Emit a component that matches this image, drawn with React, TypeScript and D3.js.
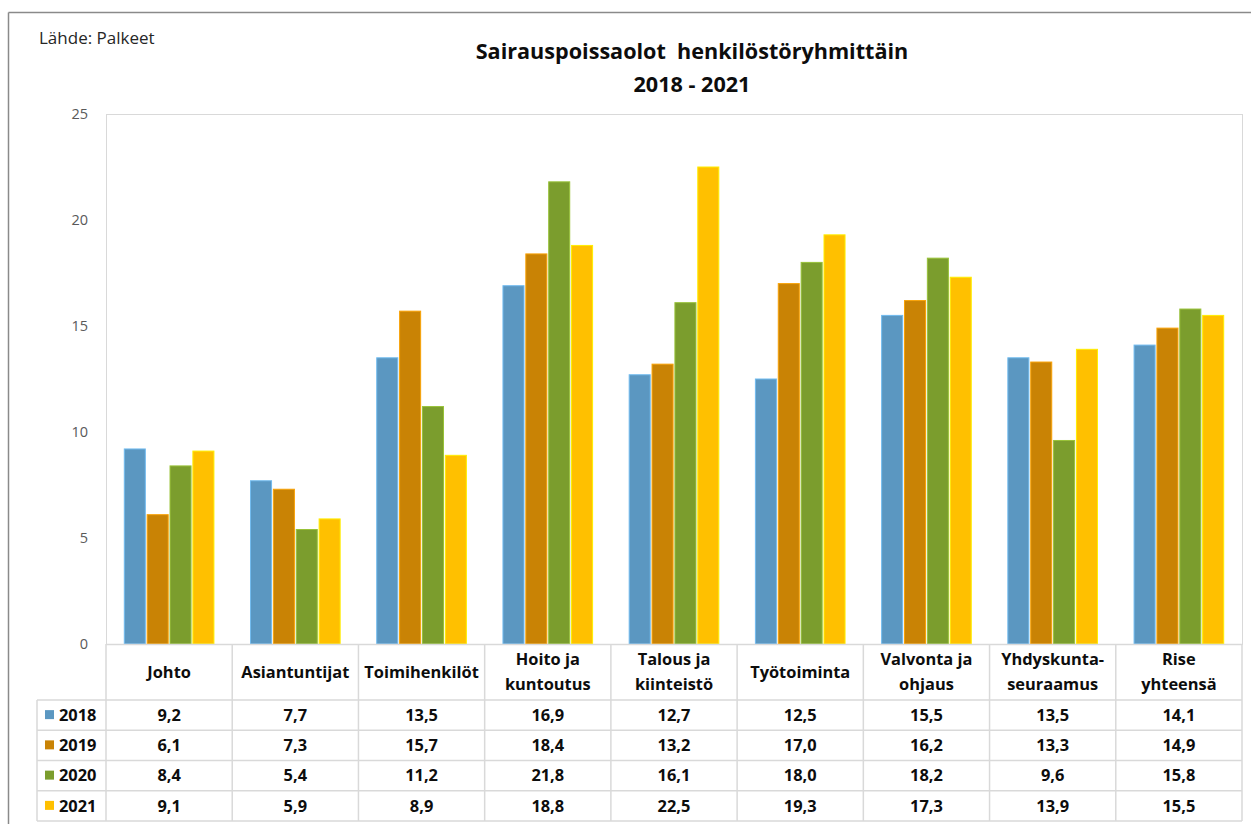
import React from 'react';
import * as d3 from 'd3';

const categories: string[][] = [
  ['Johto'],
  ['Asiantuntijat'],
  ['Toimihenkilöt'],
  ['Hoito ja', 'kuntoutus'],
  ['Talous ja', 'kiinteistö'],
  ['Työtoiminta'],
  ['Valvonta ja', 'ohjaus'],
  ['Yhdyskunta-', 'seuraamus'],
  ['Rise', 'yhteensä'],
];
const years = ['2018', '2019', '2020', '2021'];
const values2018 = [9.2, 7.7, 13.5, 16.9, 12.7, 12.5, 15.5, 13.5, 14.1];
const values2019 = [6.1, 7.3, 15.7, 18.4, 13.2, 17.0, 16.2, 13.3, 14.9];
const values2020 = [8.4, 5.4, 11.2, 21.8, 16.1, 18.0, 18.2, 9.6, 15.8];
const values2021 = [9.1, 5.9, 8.9, 18.8, 22.5, 19.3, 17.3, 13.9, 15.5];
const yTicks = [0, 5, 10, 15, 20, 25];

const series = [values2018, values2019, values2020, values2021];
const colors = ['#5b97c1', '#c98305', '#7b9d2d', '#ffc000'];

const W = 1251;
const H = 824;
const font = '"Open Sans", Lato, sans-serif';
const gridColor = '#d9d9d9';

export default function App() {
  const left = 106;
  const right = 1242;
  const top = 114;
  const zero = 644;
  const labelBottom = 700;
  const tableBottom = 821;
  const legendLeft = 37;

  const catKeys = categories.map(c => c.join(' '));
  const x = d3.scaleBand<string>().domain(catKeys).range([left, right]);
  const xInner = d3.scaleBand<string>()
    .domain(years)
    .range([0, x.bandwidth()])
    .paddingInner(0.08)
    .paddingOuter(0.8);
  const y = d3.scaleLinear().domain([0, 25]).range([zero, top]);
  const rowH = (tableBottom - labelBottom) / years.length;
  const fmt = (v: number) => v.toFixed(1).replace('.', ',');

  return (
    <svg
      width={W}
      height={H}
      style={{ position: 'absolute', left: 0, top: 0, background: '#fff', fontFamily: font }}
    >
      {/* outer frame */}
      <line x1={8.5} x2={W} y1={12.5} y2={12.5} stroke="#8a8a8a" strokeWidth={1.5} />
      <line x1={8.5} x2={8.5} y1={12.5} y2={H} stroke="#8a8a8a" strokeWidth={1.5} />

      <text x={39} y={38} dy="0.35em" fontSize={17} fill="#262626">Lähde: Palkeet</text>
      <text x={692} y={51} dy="0.35em" fontSize={21.6} fontWeight="bold" textAnchor="middle" fill="#0d0d0d" style={{ whiteSpace: 'pre' }}>
        Sairauspoissaolot  henkilöstöryhmittäin
      </text>
      <text x={692} y={84} dy="0.35em" fontSize={21.6} fontWeight="bold" textAnchor="middle" fill="#0d0d0d">
        2018 - 2021
      </text>

      {/* plot area border */}
      <rect x={left + 0.5} y={top + 0.5} width={right - left} height={zero - top} fill="none" stroke={gridColor} />

      {yTicks.map(t => (
        <text key={t} x={88} y={y(t)} dy="0.35em" fontSize={14.5} textAnchor="end" fill="#595959">
          {t}
        </text>
      ))}

      {/* bars */}
      {catKeys.map((c, i) => (
        <g key={c} transform={`translate(${x(c)},0)`}>
          {years.map((yr, s) => {
            const v = series[s][i];
            return (
              <rect
                key={yr}
                x={xInner(yr)}
                y={y(v)}
                width={xInner.bandwidth()}
                height={zero - y(v)}
                fill={colors[s]}
                stroke={d3.color(colors[s])!.brighter(0.6).toString()}
                strokeWidth={1}
              />
            );
          })}
        </g>
      ))}

      {/* data table grid */}
      <line x1={left} x2={right} y1={zero + 0.5} y2={zero + 0.5} stroke={gridColor} strokeWidth={1.5} />
      {years.map((yr, s) => (
        <line key={yr} x1={legendLeft} x2={right} y1={labelBottom + s * rowH} y2={labelBottom + s * rowH} stroke={gridColor} strokeWidth={1.5} />
      ))}
      <line x1={legendLeft} x2={right} y1={tableBottom} y2={tableBottom} stroke={gridColor} strokeWidth={1.5} />
      <line x1={legendLeft} x2={legendLeft} y1={labelBottom} y2={tableBottom} stroke={gridColor} strokeWidth={1.5} />
      {[...catKeys.map(c => x(c)!), right].map((xv, i) => (
        <line key={i} x1={xv} x2={xv} y1={zero} y2={tableBottom} stroke={gridColor} strokeWidth={1.5} />
      ))}

      {/* category labels */}
      {categories.map((lines, i) => {
        const cx = x(catKeys[i])! + x.bandwidth() / 2;
        const cy = (zero + labelBottom) / 2;
        return (
          <text key={i} x={cx} textAnchor="middle" fontSize={16.4} fontWeight="bold" fill="#0d0d0d">
            {lines.map((ln, j) => (
              <tspan key={j} x={cx} y={cy + (j - (lines.length - 1) / 2) * 25} dy="0.35em">
                {ln}
              </tspan>
            ))}
          </text>
        );
      })}

      {/* legend + values */}
      {years.map((yr, s) => {
        const cy = labelBottom + s * rowH + rowH / 2;
        return (
          <g key={yr}>
            <rect x={45} y={cy - 5} width={9} height={9} fill={colors[s]} />
            <text x={59} y={cy} dy="0.35em" fontSize={16.4} fontWeight="bold" fill="#0d0d0d">{yr}</text>
            {series[s].map((v, i) => (
              <text
                key={i}
                x={x(catKeys[i])! + x.bandwidth() / 2}
                y={cy}
                dy="0.35em"
                textAnchor="middle"
                fontSize={16.4}
                fontWeight="bold"
                fill="#0d0d0d"
              >
                {fmt(v)}
              </text>
            ))}
          </g>
        );
      })}
    </svg>
  );
}
